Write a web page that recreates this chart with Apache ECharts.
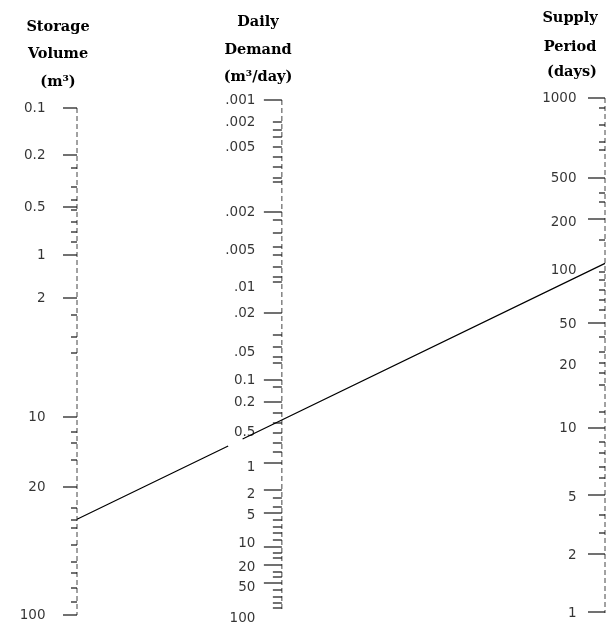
<!DOCTYPE html>
<html>
<head>
<meta charset="utf-8">
<style>
  html, body { margin: 0; padding: 0; background: #fff; }
  #chart { width: 607px; height: 625px; }
</style>
<script src="https://cdn.jsdelivr.net/npm/echarts/dist/echarts.min.js"></script>
</head>
<body>
<div id="chart"></div>
<script>
// ---- Nomogram data (positions measured down each scale, read from the picture) ----
// horizontal placement of the three scales (0 = Storage, 1 = Supply)
var scaleX = [0, 0.388, 1];

// Storage Volume (m3)
var storageLabels = ['0.1', '0.2', '0.5', '1', '2', '10', '20', '100'];
var storageValues = [0.1, 0.2, 0.5, 1, 2, 10, 20, 100];
var storagePos    = [10, 57, 109, 157, 200, 319, 389, 517];
var storageMinorPos = [70, 89, 102, 112, 124, 134, 144, 217, 239, 255, 334, 345, 362, 410, 422, 430, 447, 464, 475, 490, 504];
var storageRange = [10, 517];

// Daily Demand (m3/day)
var demandLabels = ['.001', '.002', '.005', '.002', '.005', '.01', '.02', '.05', '0.1', '0.2', '0.5', '1', '2', '5', '10', '20', '50', '100'];
var demandPos    = [2, 24, 49, 114, 152, 189, 215, 254, 282, 304, 334, 369, 396, 417, 445, 469, 489, 520];
var demandMajorPos = [2, 114, 215, 282, 304, 365, 392, 415, 449, 467, 485];
var demandMinorPos = [24, 32, 39, 49, 59, 69, 80, 84, 122, 135, 149, 157, 169, 179, 184, 237, 249, 259, 265, 289, 315, 325, 335, 345, 354, 400, 409, 422, 429, 435, 442, 455, 460, 474, 479, 492, 499, 505, 510];
var demandRange = [2, 512];

// Supply Period (days)
var periodLabels = ['1000', '500', '200', '100', '50', '20', '10', '5', '2', '1'];
var periodValues = [1000, 500, 200, 100, 50, 20, 10, 5, 2, 1];
var periodPos    = [0, 80, 124, 172, 226, 267, 330, 399, 457, 515];
var periodMajorPos = [0, 80, 121, 225, 330, 397, 456, 514];
var periodMinorPos = [10, 27, 44, 52, 95, 104, 142, 174, 182, 192, 202, 212, 239, 254, 265, 275, 287, 314, 344, 355, 369, 380, 417, 435];
var periodRange = [0, 515];

// Example key line
var keyStorage = 30;   // m3
var keyPeriod = 110;   // days

// ---- helpers ----
function posOf(v, values, pos) {
  for (var i = 0; i < values.length - 1; i++) {
    var a = values[i], b = values[i + 1];
    var lo = Math.min(a, b), hi = Math.max(a, b);
    if (v >= lo && v <= hi) {
      var f = Math.log(v / a) / Math.log(b / a);
      return pos[i] + f * (pos[i + 1] - pos[i]);
    }
  }
  return pos[pos.length - 1];
}
function pts(x, arr) { return arr.map(function (p) { return [x, p]; }); }
function labelPts(x, arr, labels) {
  return arr.map(function (p, i) { return { value: [x, p], name: labels[i] }; });
}

var labelFont = { fontFamily: 'DejaVu Sans', fontSize: 13.5, color: '#000' };

function tickSeries(x, arr, len, w) {
  return {
    type: 'scatter', silent: true, data: pts(x, arr),
    symbol: 'rect', symbolSize: [len, w || 1.4], symbolOffset: [-len / 2, 0],
    itemStyle: { color: '#000' }, z: 3
  };
}
function labelSeries(x, arr, labels, dist) {
  return {
    type: 'scatter', silent: true, data: labelPts(x, arr, labels),
    symbolSize: 1, itemStyle: { color: 'rgba(0,0,0,0)' },
    label: Object.assign({ show: true, position: 'left', distance: dist,
      formatter: function (p) { return p.name; } }, labelFont), z: 4
  };
}
function axisSeries(x, range) {
  return {
    type: 'line', silent: true, symbol: 'none', data: [[x, range[0]], [x, range[1]]],
    lineStyle: { color: '#444', width: 1, type: [5, 3] }, z: 2
  };
}

var keyLeft = posOf(keyStorage, storageValues, storagePos);
var keyRight = posOf(keyPeriod, periodValues, periodPos);

var titleFont = 'bold 14.5px "DejaVu Serif"';
function title(text, x, y) {
  return { type: 'text', x: x, y: y, style: { text: text, font: titleFont, fill: '#000', textAlign: 'center', textVerticalAlign: 'middle' } };
}

var chart = echarts.init(document.getElementById('chart'), null, { renderer: 'canvas' });
chart.setOption({
  animation: false,
  backgroundColor: '#fff',
  grid: { left: 77, right: 2, top: 98, bottom: 7 },
  xAxis: { type: 'value', min: 0, max: 1, show: false },
  yAxis: { type: 'value', min: 0, max: 520, inverse: true, show: false },
  graphic: [
    title('Storage', 58, 27), title('Volume', 58, 54), title('(m³)', 58, 82),
    title('Daily', 258, 22), title('Demand', 258, 50), title('(m³/day)', 258, 77),
    title('Supply', 570, 18), title('Period', 570, 47), title('(days)', 572, 72)
  ],
  series: [
    axisSeries(scaleX[0], storageRange),
    axisSeries(scaleX[1], demandRange),
    axisSeries(scaleX[2], periodRange),
    tickSeries(scaleX[0], storagePos, 14),
    tickSeries(scaleX[0], storageMinorPos, 6),
    tickSeries(scaleX[1], demandMajorPos, 18),
    tickSeries(scaleX[1], demandMinorPos, 9),
    tickSeries(scaleX[2], periodMajorPos, 17),
    tickSeries(scaleX[2], periodMinorPos, 6),
    labelSeries(scaleX[0], storagePos, storageLabels, 31),
    labelSeries(scaleX[1], demandPos, demandLabels, 26),
    labelSeries(scaleX[2], periodPos, periodLabels, 28),
    {
      type: 'line', silent: true, symbol: 'none',
      data: [[scaleX[0], keyLeft], [scaleX[2], keyRight]],
      lineStyle: { color: '#000', width: 1.2, type: [168, 16, 600] }, z: 5
    }
  ]
});
</script>
</body>
</html>
